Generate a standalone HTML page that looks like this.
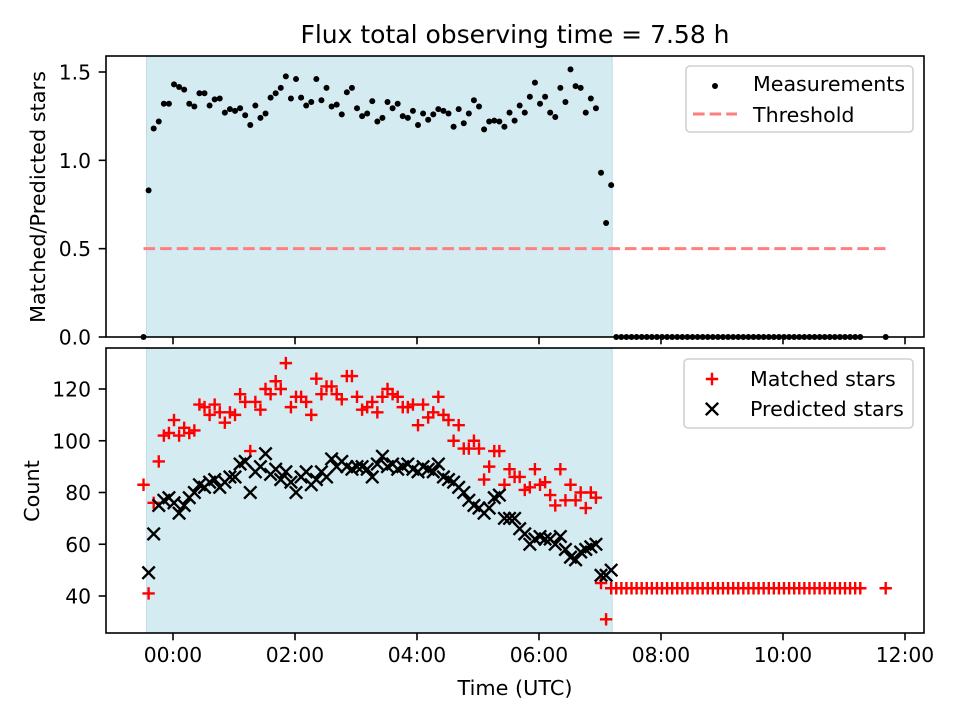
<!DOCTYPE html>
<html><head><meta charset="utf-8"><style>
body{margin:0;background:#fff;}
svg{display:block;font-family:"DejaVu Sans","Liberation Sans",sans-serif;}
</style></head><body>
<svg id="chart" width="960" height="720" viewBox="0 0 960 720">
<rect width="960" height="720" fill="#fff"/>
<text x="515" y="43" font-size="25" text-anchor="middle" fill="#000">Flux total observing time = 7.58 h</text>
<text transform="translate(45,197) rotate(-90)" font-size="20.8" text-anchor="middle">Matched/Predicted stars</text>
<text transform="translate(39,491) rotate(-90)" font-size="20.8" text-anchor="middle">Count</text>
<text x="515" y="695" font-size="20.8" text-anchor="middle">Time (UTC)</text>
<g id="topPanel"></g>
<g id="botPanel"></g>
</svg>
<script>
const times = [-29,-24,-19,-14,-9,-4,1,6,11,16,21,26,31,36,41,46,51,56,61,66,71,76,81,86,91,96,101,106,111,116,121,126,131,136,141,146,151,156,161,166,171,176,181,186,191,196,201,206,211,216,221,226,231,236,241,246,251,256,261,266,271,276,281,286,291,296,301,306,311,316,321,326,331,336,341,346,351,356,361,366,371,376,381,386,391,396,401,406,411,416,421,426,431];
const ratio = [0,0.83,1.18,1.22,1.32,1.32,1.43,1.415,1.40,1.32,1.305,1.38,1.38,1.31,1.345,1.35,1.27,1.29,1.28,1.295,1.255,1.20,1.31,1.24,1.265,1.355,1.38,1.41,1.475,1.35,1.46,1.355,1.31,1.33,1.46,1.34,1.41,1.305,1.315,1.26,1.385,1.41,1.295,1.25,1.265,1.335,1.22,1.24,1.33,1.295,1.32,1.25,1.24,1.28,1.20,1.265,1.23,1.26,1.29,1.28,1.265,1.19,1.29,1.21,1.265,1.34,1.305,1.175,1.22,1.225,1.22,1.19,1.27,1.225,1.31,1.27,1.36,1.44,1.32,1.36,1.27,1.245,1.41,1.33,1.515,1.42,1.41,1.27,1.35,1.295,0.93,0.645,0.86];
const matched = [83,41,76,92,102,103,108,102,105,103,104,114,113,110,114,111,107,111,110,118,115,96,115,112,120,118,123,120,130,113,117,117,115,110,124,118,121,121,118,116,125,125,117,112,113,115,111,117,120,118,117,113,113,114,106,114,109,111,117,110,108,100,106,97,97,100,97,85,90,96,96,83,89,86,86,81,82,89,83,84,79,75,89,77,83,77,80,74,80,78,45,31,43];
const predicted = [null,49,64,75,77,78,76,72,75,78,80,83,82,84,85,82,84,86,86,91,92,80,88,90,95,87,89,85,88,84,80,86,88,83,85,88,86,93,90,92,90,89,90,90,89,86,91,94,90,91,89,90,91,89,88,90,89,88,91,86,85,84,82,80,77,75,74,72,74,78,79,70,70,70,66,64,60,62,63,62,62,60,63,58,55,54,57,58,59,60,48,48,50];
const tailTimes = [436,441,446,451,456,461,466,471,476,481,486,491,496,501,506,511,516,521,526,531,536,541,546,551,556,561,566,571,576,581,586,591,596,601,606,611,616,621,626,631,636,641,646,651,656,661,666,671,676,701];
const tailRatio = [0,0,0,0,0,0,0,0,0,0,0,0,0,0,0,0,0,0,0,0,0,0,0,0,0,0,0,0,0,0,0,0,0,0,0,0,0,0,0,0,0,0,0,0,0,0,0,0,0,0];
const tailMatched = [43,43,43,43,43,43,43,43,43,43,43,43,43,43,43,43,43,43,43,43,43,43,43,43,43,43,43,43,43,43,43,43,43,43,43,43,43,43,43,43,43,43,43,43,43,43,43,43,43,43];
const observingSpan = [-26, 432];
const threshold = [0.5];
const thresholdSpan = [-29, 701];
const xTickMinutes = [0,120,240,360,480,600,720];
const xTickLabels = ["00:00","02:00","04:00","06:00","08:00","10:00","12:00"];
const topTicks = [0,0.5,1.0,1.5];
const topTickLabels = ["0.0","0.5","1.0","1.5"];
const botTicks = [40,60,80,100,120];
const botTickLabels = ["40","60","80","100","120"];

(function(){
const NS="http://www.w3.org/2000/svg";
const X = m => 173 + m*61/60;
const YT = v => 337 - v*176.67;
const YB = v => 596 - (v-40)*2.5875;
function mk(parent,tag,attrs){const e=document.createElementNS(NS,tag);for(const k in attrs)e.setAttribute(k,attrs[k]);parent.appendChild(e);return e;}

const topG=document.getElementById('topPanel'), botG=document.getElementById('botPanel');
const panels=[{g:topG,y0:56,y1:337},{g:botG,y0:348,y1:633}];
panels.forEach((p,pi)=>{
  const sh=mk(p.g,'rect',{x:X(observingSpan[0]),y:p.y0,width:X(observingSpan[1])-X(observingSpan[0]),height:p.y1-p.y0,fill:'#d5ebf2',stroke:'#bcdde8','stroke-width':1});
  
  
});

const th=mk(topG,'line',{x1:X(thresholdSpan[0]),x2:X(thresholdSpan[1]),y1:YT(threshold[0]),y2:YT(threshold[0]),stroke:'#ff7f7f','stroke-width':3,'stroke-dasharray':'11.6,5'});



const allT=times.concat(tailTimes), allR=ratio.concat(tailRatio), allM=matched.concat(tailMatched);
allT.forEach((t,i)=>{
  const c=mk(topG,'circle',{cx:X(t),cy:YT(allR[i]),r:3,fill:'#000'});
  
  
});
allT.forEach((t,i)=>{
  const x=X(t),y=YB(allM[i]),s=6.2;
  const p=mk(botG,'path',{d:`M${x-s},${y}H${x+s}M${x},${y-s}V${y+s}`,stroke:'#f00','stroke-width':2.4,fill:'none'});
  
  
});
times.forEach((t,i)=>{
  if(predicted[i]==null) return;
  const x=X(t),y=YB(predicted[i]),s=6.2;
  const p=mk(botG,'path',{d:`M${x-s},${y-s}L${x+s},${y+s}M${x-s},${y+s}L${x+s},${y-s}`,stroke:'#000','stroke-width':2.4,fill:'none'});
  
  
});

panels.forEach((p,pi)=>{
  const f=mk(p.g,'rect',{x:106,y:p.y0,width:818,height:p.y1-p.y0,fill:'none',stroke:'#000','stroke-width':1.6});
  
  
  xTickMinutes.forEach((m,i)=>{
    const tk=mk(p.g,'line',{x1:X(m),x2:X(m),y1:p.y1,y2:p.y1+7.3,stroke:'#000','stroke-width':1.6});
    
    
    if(pi===1){
      const tx=mk(p.g,'text',{x:X(m),y:p.y1+29,'font-size':20.3,'text-anchor':'middle'});
      tx.textContent=xTickLabels[i];
      
      
    }
  });
  const ticks=pi===0?topTicks:botTicks, labels=pi===0?topTickLabels:botTickLabels, Y=pi===0?YT:YB;
  ticks.forEach((v,i)=>{
    const tk=mk(p.g,'line',{x1:98.7,x2:106,y1:Y(v),y2:Y(v),stroke:'#000','stroke-width':1.6});
    
    
    const tx=mk(p.g,'text',{x:91,y:Y(v)+7.5,'font-size':20.3,'text-anchor':'end'});
    tx.textContent=labels[i];
    
    
  });
});

function legendBox(g,x,y,w,h,name){const r=mk(g,'rect',{x:x,y:y,width:w,height:h,rx:4,fill:'#fff','fill-opacity':0.8,stroke:'#d0d0d0','stroke-width':1.6});}
function legText(g,x,y,s,name){const t=mk(g,'text',{x:x,y:y,'font-size':20.6});t.textContent=s;}
legendBox(topG,686,66,227,66,'top-legend');
const ld=mk(topG,'circle',{cx:715,cy:86,r:3,fill:'#000'});


legText(topG,753,91,'Measurements','legend-measurements-label');
const ll=mk(topG,'line',{x1:693,x2:737,y1:114,y2:114,stroke:'#ff7f7f','stroke-width':3,'stroke-dasharray':'11.6,5'});


legText(topG,753,122,'Threshold','legend-threshold-label');
legendBox(botG,684,359,229,69,'bottom-legend');
const lp=mk(botG,'path',{d:'M705.8,379H718.2M712,372.8V385.2',stroke:'#f00','stroke-width':2.4});


legText(botG,750,386,'Matched stars','legend-matched-label');
const lx=mk(botG,'path',{d:'M705.8,402.8L718.2,415.2M705.8,415.2L718.2,402.8',stroke:'#000','stroke-width':2.4});


legText(botG,750,416,'Predicted stars','legend-predicted-label');
})();
</script>
</body></html>
